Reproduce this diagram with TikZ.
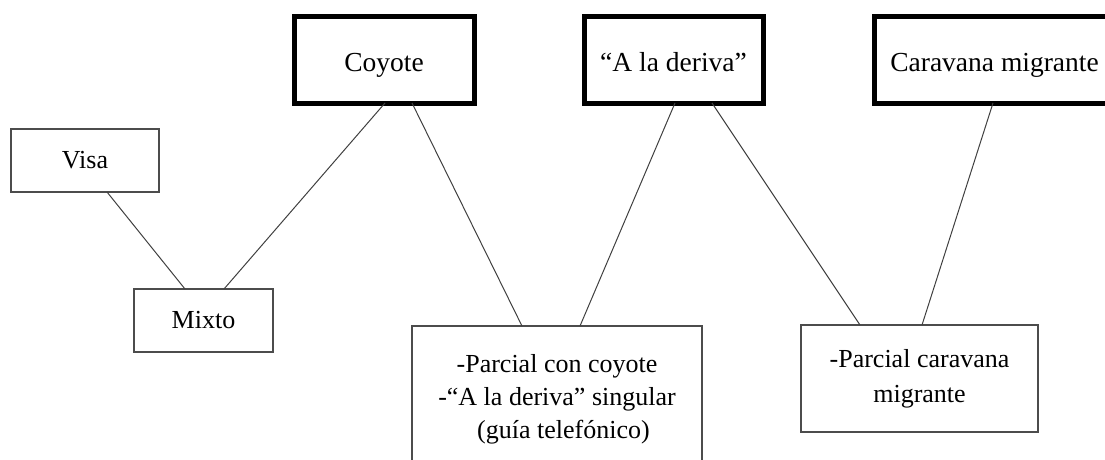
\documentclass[tikz,border=0pt]{standalone}
\usepackage{fontspec}
\setmainfont{Liberation Serif}
\usetikzlibrary{positioning}

\begin{document}
\begin{tikzpicture}[x=1pt,y=-1pt,
  thickbox/.style={draw=black, line width=5pt, inner sep=0pt, outer sep=0pt, font=\fontsize{27.5}{32}\selectfont, minimum height=86pt, text height=22pt, text depth=0pt},
  thinbox/.style={draw=black!70, line width=1.3pt, inner sep=0pt, outer sep=0pt, align=center, font=\fontsize{26}{33}\selectfont},
  link/.style={draw=black!75, line width=1pt}]
\clip (0,0) rectangle (1105,460);
\useasboundingbox (0,0) rectangle (1105,460);
% upper row
\node[thickbox, minimum width=180pt] (coyote) at (384,60) {Coyote};
\node[thickbox, minimum width=179pt] (deriva) at (673.5,60) {“A la deriva”};
\node[thickbox, minimum width=240pt] (caravana) at (994.5,60) {Caravana migrante};
% left side
\node[thinbox, minimum width=148pt, minimum height=63pt] (visa) at (85,160.5) {Visa};
\node[thinbox, minimum width=139pt, minimum height=63pt] (mixto) at (203.5,320.5) {Mixto};
% lower row
\node[thinbox, minimum width=290pt, minimum height=146pt] (parcialcoy) at (557,399) {-Parcial con coyote\\-“A la deriva” singular\\\hspace*{13pt}(guía telefónico)};
\node[thinbox, font=\fontsize{26}{35}\selectfont, minimum width=237pt, minimum height=107pt] (parcialcar) at (919.5,378.5) {-Parcial caravana\\migrante};
% connectors
\draw[link] ([xshift=96pt]visa.south west) -- ([xshift=51pt]mixto.north west);
\draw[link] ([xshift=90pt]mixto.north west) -- ([xshift=91pt]coyote.south west);
\draw[link] ([xshift=118pt]coyote.south west) -- ([xshift=110pt]parcialcoy.north west);
\draw[link] ([xshift=91pt]deriva.south west) -- ([xshift=168pt]parcialcoy.north west);
\draw[link] ([xshift=128pt]deriva.south west) -- ([xshift=59pt]parcialcar.north west);
\draw[link] ([xshift=118.5pt]caravana.south west) -- ([xshift=121pt]parcialcar.north west);
\end{tikzpicture}
\end{document}
